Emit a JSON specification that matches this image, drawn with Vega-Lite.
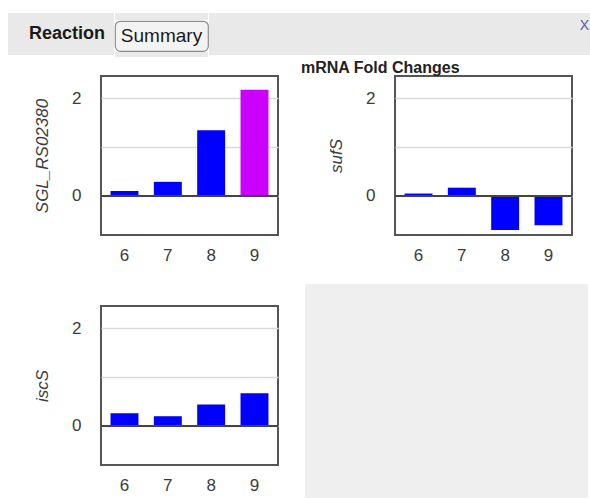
{
  "$schema": "https://vega.github.io/schema/vega-lite/v6.json",
  "background": "#ffffff",
  "padding": {"left": 8, "top": 13, "right": 0, "bottom": 0},
  "autosize": {"type": "pad"},
  "config": {
    "font": "Liberation Sans",
    "view": {"stroke": null},
    "axisY": {
      "grid": true, "gridColor": "#dadada", "gridWidth": 1.5,
      "ticks": false, "domain": false,
      "labelPadding": 20, "labelFontSize": 17, "labelColor": "#3c3c3c",
      "titleFontSize": 17, "titleFontStyle": "italic", "titleFontWeight": "normal",
      "titleColor": "#3c3c3c", "titlePadding": 20
    },
    "axisX": {
      "grid": false, "ticks": false, "domain": false, "labelAngle": 0,
      "labelPadding": 12, "labelFontSize": 17, "labelColor": "#3c3c3c"
    }
  },
  "spacing": 2,
  "vconcat": [
    {
      "spacing": 0,
      "hconcat": [
        {
          "width": 106, "height": 42,
          "data": {"values": [{}]},
          "mark": {"type": "text", "fontWeight": "bold", "fontSize": 18, "dx": 6, "color": "#1a1a1a"},
          "encoding": {"text": {"value": "Reaction"}},
          "view": {"fill": "#e9e9e9", "stroke": null}
        },
        {
          "spacing": 0,
          "vconcat": [
            {
              "width": 93, "height": 7,
              "data": {"values": []},
              "mark": "text",
              "encoding": {"text": {"value": ""}},
              "view": {"fill": "#e9e9e9", "stroke": null}
            },
            {
              "width": 93, "height": 30,
              "data": {"values": [{}]},
              "mark": {"type": "text", "fontSize": 19, "color": "#1a1a1a"},
              "encoding": {"text": {"value": "Summary"}},
              "view": {"fill": "#f3f3f3", "stroke": "#8c8c8c", "strokeWidth": 1.2, "cornerRadius": 5}
            },
            {
              "width": 93, "height": 5,
              "data": {"values": []},
              "mark": "text",
              "encoding": {"text": {"value": ""}},
              "view": {"fill": "#e9e9e9", "stroke": null}
            }
          ]
        },
        {
          "width": 369, "height": 42,
          "data": {"values": []},
          "mark": "text",
          "encoding": {"text": {"value": ""}},
          "view": {"fill": "#e9e9e9", "stroke": null}
        },
        {
          "width": 13, "height": 42,
          "data": {"values": [{}]},
          "mark": {"type": "text", "fontSize": 14, "dy": -8, "color": "#5b5ba6"},
          "encoding": {"text": {"value": "X"}},
          "view": {"fill": "#e9e9e9", "stroke": null}
        }
      ]
    },
    {
      "spacing": 20,
      "hconcat": [
        {
          "width": 4, "height": 10,
          "data": {"values": []},
          "mark": "text",
          "encoding": {"text": {"value": ""}}
        },
        {
          "spacing": 20,
          "vconcat": [
            {
              "spacing": 20,
              "hconcat": [
                {
                  "width": 177, "height": 159,
                  "data": {"values": [
                    {"t": "6", "value": 0.10},
                    {"t": "7", "value": 0.29},
                    {"t": "8", "value": 1.35},
                    {"t": "9", "value": 2.18}
                  ]},
                  "view": {"fill": "#ffffff", "stroke": "#555555", "strokeWidth": 2},
                  "layer": [
                    {
                      "mark": {"type": "bar"},
                      "encoding": {
                        "x": {"field": "t", "type": "ordinal", "scale": {"paddingInner": 0.355, "paddingOuter": 0.22}, "axis": {"title": null}},
                        "y": {"field": "value", "type": "quantitative", "scale": {"domain": [-0.8, 2.46], "nice": false, "zero": false}, "axis": {"values": [0, 1, 2], "labelExpr": "datum.value === 1 ? '' : datum.label", "title": "SGL_RS02380"}},
                        "y2": {"datum": 0},
                        "color": {"condition": {"test": "datum.value > 2", "value": "#cc00ff"}, "value": "#0000ff"}
                      }
                    },
                    {
                      "mark": {"type": "rule", "color": "#444444", "strokeWidth": 1.5},
                      "encoding": {"y": {"datum": 0, "type": "quantitative"}}
                    }
                  ]
                },
                {
                  "width": 177, "height": 159,
                  "title": {"text": "mRNA Fold Changes", "anchor": "start", "frame": "group", "dx": -94, "dy": 11, "offset": -2, "baseline": "alphabetic", "fontSize": 16, "fontWeight": "bold", "color": "#222222"},
                  "data": {"values": [
                    {"t": "6", "value": 0.05},
                    {"t": "7", "value": 0.17},
                    {"t": "8", "value": -0.70},
                    {"t": "9", "value": -0.60}
                  ]},
                  "view": {"fill": "#ffffff", "stroke": "#555555", "strokeWidth": 2},
                  "layer": [
                    {
                      "mark": {"type": "bar"},
                      "encoding": {
                        "x": {"field": "t", "type": "ordinal", "scale": {"paddingInner": 0.355, "paddingOuter": 0.22}, "axis": {"title": null}},
                        "y": {"field": "value", "type": "quantitative", "scale": {"domain": [-0.8, 2.46], "nice": false, "zero": false}, "axis": {"values": [0, 1, 2], "labelExpr": "datum.value === 1 ? '' : datum.label", "title": "sufS"}},
                        "y2": {"datum": 0},
                        "color": {"condition": {"test": "datum.value > 2", "value": "#cc00ff"}, "value": "#0000ff"}
                      }
                    },
                    {
                      "mark": {"type": "rule", "color": "#444444", "strokeWidth": 1.5},
                      "encoding": {"y": {"datum": 0, "type": "quantitative"}}
                    }
                  ]
                }
              ]
            },
            {
              "spacing": 25,
              "hconcat": [
                {
                  "width": 177, "height": 159,
                  "data": {"values": [
                    {"t": "6", "value": 0.26},
                    {"t": "7", "value": 0.20},
                    {"t": "8", "value": 0.44},
                    {"t": "9", "value": 0.67}
                  ]},
                  "view": {"fill": "#ffffff", "stroke": "#555555", "strokeWidth": 2},
                  "layer": [
                    {
                      "mark": {"type": "bar"},
                      "encoding": {
                        "x": {"field": "t", "type": "ordinal", "scale": {"paddingInner": 0.355, "paddingOuter": 0.22}, "axis": {"title": null}},
                        "y": {"field": "value", "type": "quantitative", "scale": {"domain": [-0.8, 2.46], "nice": false, "zero": false}, "axis": {"values": [0, 1, 2], "labelExpr": "datum.value === 1 ? '' : datum.label", "title": "iscS"}},
                        "y2": {"datum": 0},
                        "color": {"condition": {"test": "datum.value > 2", "value": "#cc00ff"}, "value": "#0000ff"}
                      }
                    },
                    {
                      "mark": {"type": "rule", "color": "#444444", "strokeWidth": 1.5},
                      "encoding": {"y": {"datum": 0, "type": "quantitative"}}
                    }
                  ]
                },
                {
                  "width": 239, "height": 170,
                  "data": {"values": []},
                  "mark": "text",
                  "encoding": {"text": {"value": ""}},
                  "view": {"fill": "#efefef", "stroke": "#efefef", "strokeWidth": 44}
                }
              ]
            }
          ]
        }
      ]
    }
  ]
}
